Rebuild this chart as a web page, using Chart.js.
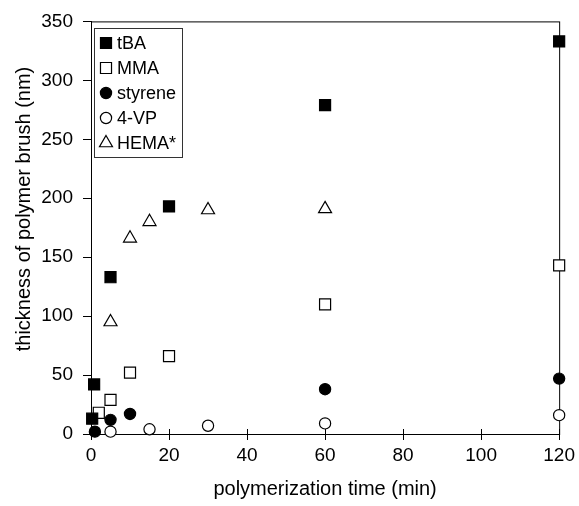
<!DOCTYPE html>
<html>
<head>
<meta charset="utf-8">
<script src="https://cdn.jsdelivr.net/npm/chart.js@4.4.1/dist/chart.umd.min.js"></script>
<style>
  html, body { margin: 0; padding: 0; background: #fff; }
  #wrap { width: 579px; height: 506px; }
</style>
</head>
<body>
<div id="wrap"><canvas id="chart" width="579" height="506"></canvas></div>
<script>
// data (time in min, thickness in nm)
const seriesNames = ['tBA', 'MMA', 'styrene', '4-VP', 'HEMA*'];
const tbaTime = [0.3, 0.8, 5, 20, 60, 120];
const tbaThick = [13, 42, 133, 193, 279, 333];
const mmaTime = [2, 5, 10, 20, 60, 120];
const mmaThick = [18, 29, 52, 66, 110, 143];
const styTime = [1, 5, 10, 60, 120];
const styThick = [2, 12, 17, 38, 47];
const vpTime = [5, 15, 30, 60, 120];
const vpThick = [2, 4, 7, 9, 16];
const hemaTime = [5, 10, 15, 30, 60];
const hemaThick = [95, 166, 180, 190, 191];
const xTicks = [0, 20, 40, 60, 80, 100, 120];
const yTicks = [0, 50, 100, 150, 200, 250, 300, 350];
const yTitle = 'thickness of polymer brush (nm)';

const FONT = '"Liberation Sans", Arial, sans-serif';

function pts(xs, ys) {
    return xs.map((x, i) => ({ x: x, y: ys[i] }));
}

const marker = [
    { style: 'rect', radius: 7.8, fill: '#000' },
    { style: 'rect', radius: 7.8, fill: '#fff' },
    { style: 'circle', radius: 5.6, fill: '#000' },
    { style: 'circle', radius: 5.6, fill: '#fff' },
    { style: 'triangle', radius: 7.5, fill: '#fff' }
];

const allData = [
    pts(tbaTime, tbaThick),
    pts(mmaTime, mmaThick),
    pts(styTime, styThick),
    pts(vpTime, vpThick),
    pts(hemaTime, hemaThick)
];

const datasets = seriesNames.map((name, i) => ({
    label: name,
    data: allData[i],
    showLine: false,
    pointStyle: marker[i].style,
    pointRadius: marker[i].radius,
    pointHoverRadius: marker[i].radius,
    pointBackgroundColor: marker[i].fill,
    pointBorderColor: '#000',
    pointBorderWidth: 1.2,
    clip: false
}));

// frame, inward half of the x ticks, and the y title (sits a bit above centre in the original)
const framePlugin = {
    id: 'frame',
    beforeDatasetsDraw(chart) {
        const a = chart.chartArea;
        const ctx = chart.ctx;
        const xs = chart.scales.x;
        ctx.save();
        ctx.strokeStyle = '#000';
        ctx.lineWidth = 1;
        ctx.strokeRect(a.left + 0.5, a.top + 0.5, a.right - a.left, a.bottom - a.top);
        ctx.beginPath();
        xTicks.forEach(t => {
            const px = Math.round(xs.getPixelForValue(t)) + 0.5;
            ctx.moveTo(px, a.bottom - 5);
            ctx.lineTo(px, a.bottom);
        });
        ctx.stroke();

        ctx.translate(24, 209);
        ctx.rotate(-Math.PI / 2);
        ctx.font = '20px ' + FONT;
        ctx.fillStyle = '#000';
        ctx.textAlign = 'center';
        ctx.textBaseline = 'middle';
        ctx.fillText(yTitle, 0, 0);
        ctx.restore();
    }
};

// legend box drawn inside the plot, top-left
const legendPlugin = {
    id: 'insideLegend',
    afterDraw(chart) {
        const ctx = chart.ctx;
        const box = { x: 94, y: 28, w: 88, h: 129 };
        ctx.save();
        ctx.fillStyle = '#fff';
        ctx.fillRect(box.x, box.y, box.w, box.h);
        ctx.strokeStyle = '#333';
        ctx.lineWidth = 1;
        ctx.strokeRect(box.x + 0.5, box.y + 0.5, box.w, box.h);
        ctx.font = '18px ' + FONT;
        ctx.textBaseline = 'middle';
        ctx.textAlign = 'left';
        seriesNames.forEach((name, i) => {
            const y = 43 + i * 25;
            ctx.fillStyle = marker[i].fill;
            ctx.strokeStyle = '#000';
            ctx.lineWidth = 1.2;
            Chart.helpers.drawPoint(ctx, {
                pointStyle: marker[i].style,
                radius: marker[i].radius,
                rotation: 0,
                borderWidth: 1.2
            }, 106, y);
            ctx.fillStyle = '#000';
            ctx.fillText(name, 117, y + 1);
        });
        ctx.restore();
    }
};

new Chart(document.getElementById('chart'), {
    type: 'scatter',
    data: { datasets: datasets },
    options: {
        responsive: false,
        animation: false,
        events: [],
        layout: { padding: { top: 17, right: 17, left: 0, bottom: 0 } },
        plugins: {
            legend: { display: false },
            tooltip: { enabled: false }
        },
        scales: {
            x: {
                type: 'linear',
                min: 0,
                max: 120,
                afterBuildTicks(scale) { scale.ticks = xTicks.map(v => ({ value: v })); },
                afterFit(scale) { scale.height = 72; },
                grid: { drawOnChartArea: false, tickLength: 6, color: '#000' },
                border: { color: '#000' },
                ticks: { color: '#000', font: { family: FONT, size: 19 }, padding: 4, maxRotation: 0 },
                title: {
                    display: true,
                    text: 'polymerization time (min)',
                    color: '#000',
                    font: { family: FONT, size: 20 },
                    padding: { top: 2, bottom: 5 }
                }
            },
            y: {
                type: 'linear',
                min: 0,
                max: 350,
                afterBuildTicks(scale) { scale.ticks = yTicks.map(v => ({ value: v })); },
                afterFit(scale) { scale.width = 91; },
                grid: { drawOnChartArea: false, tickLength: 8, color: '#000' },
                border: { color: '#000' },
                ticks: { color: '#000', font: { family: FONT, size: 19 }, padding: 10 }
            }
        }
    },
    plugins: [framePlugin, legendPlugin]
});
</script>
</body>
</html>
